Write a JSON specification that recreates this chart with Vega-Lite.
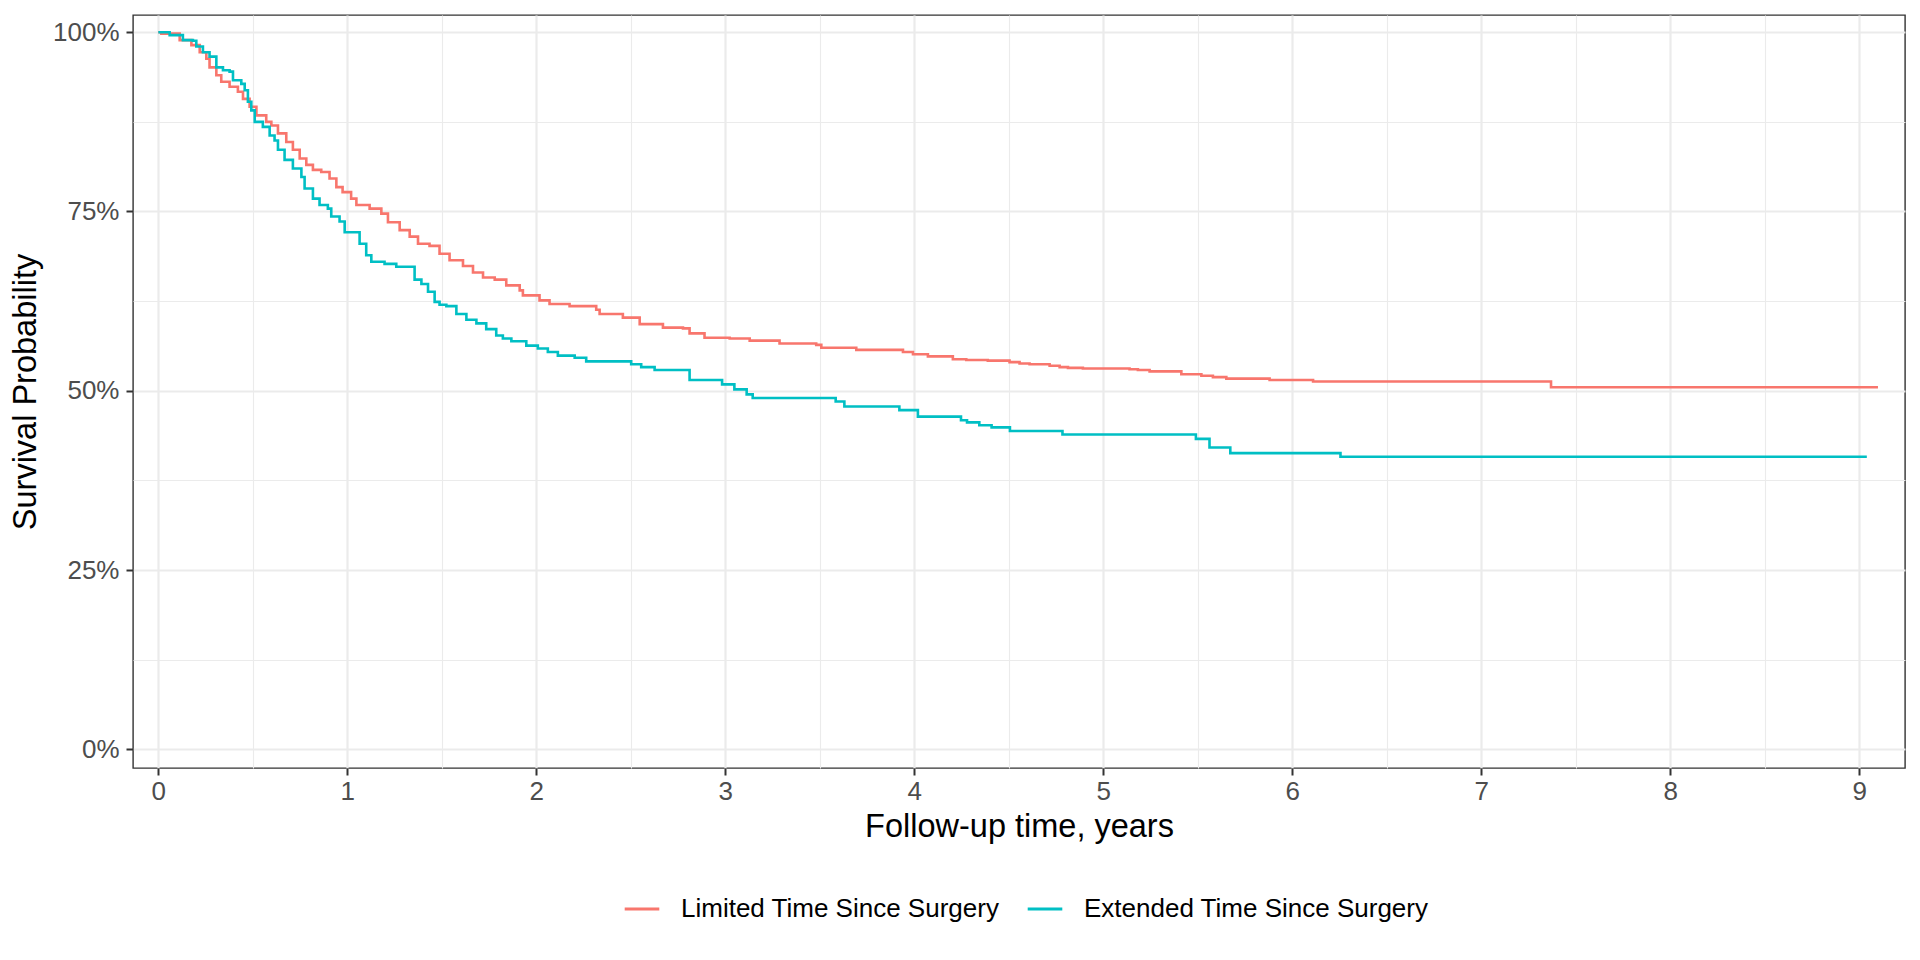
{
  "$schema": "https://vega.github.io/schema/vega-lite/v6.json",
  "width": 1772,
  "height": 753,
  "autosize": {"type": "none"},
  "padding": {"left": 133, "top": 15, "right": 15, "bottom": 192},
  "background": "white",
  "config": {
    "font": "Liberation Sans",
    "view": {"stroke": "#333333", "strokeWidth": 1.4}
  },
  "data": {
    "values": [
      {"g": "Limited Time Since Surgery", "t": 0, "s": 1.0},
      {"g": "Limited Time Since Surgery", "t": 0.016, "s": 0.998},
      {"g": "Limited Time Since Surgery", "t": 0.113, "s": 0.989},
      {"g": "Limited Time Since Surgery", "t": 0.175, "s": 0.982},
      {"g": "Limited Time Since Surgery", "t": 0.219, "s": 0.972},
      {"g": "Limited Time Since Surgery", "t": 0.254, "s": 0.963},
      {"g": "Limited Time Since Surgery", "t": 0.271, "s": 0.951},
      {"g": "Limited Time Since Surgery", "t": 0.307, "s": 0.94},
      {"g": "Limited Time Since Surgery", "t": 0.333, "s": 0.931},
      {"g": "Limited Time Since Surgery", "t": 0.377, "s": 0.924},
      {"g": "Limited Time Since Surgery", "t": 0.421, "s": 0.917},
      {"g": "Limited Time Since Surgery", "t": 0.448, "s": 0.907},
      {"g": "Limited Time Since Surgery", "t": 0.483, "s": 0.896},
      {"g": "Limited Time Since Surgery", "t": 0.519, "s": 0.884},
      {"g": "Limited Time Since Surgery", "t": 0.571, "s": 0.875},
      {"g": "Limited Time Since Surgery", "t": 0.598, "s": 0.87},
      {"g": "Limited Time Since Surgery", "t": 0.633, "s": 0.859},
      {"g": "Limited Time Since Surgery", "t": 0.677, "s": 0.847},
      {"g": "Limited Time Since Surgery", "t": 0.712, "s": 0.836},
      {"g": "Limited Time Since Surgery", "t": 0.748, "s": 0.824},
      {"g": "Limited Time Since Surgery", "t": 0.783, "s": 0.815},
      {"g": "Limited Time Since Surgery", "t": 0.818, "s": 0.808},
      {"g": "Limited Time Since Surgery", "t": 0.862, "s": 0.805},
      {"g": "Limited Time Since Surgery", "t": 0.906, "s": 0.796},
      {"g": "Limited Time Since Surgery", "t": 0.942, "s": 0.784},
      {"g": "Limited Time Since Surgery", "t": 0.975, "s": 0.777},
      {"g": "Limited Time Since Surgery", "t": 1.02, "s": 0.768},
      {"g": "Limited Time Since Surgery", "t": 1.048, "s": 0.759},
      {"g": "Limited Time Since Surgery", "t": 1.118, "s": 0.754},
      {"g": "Limited Time Since Surgery", "t": 1.18, "s": 0.747},
      {"g": "Limited Time Since Surgery", "t": 1.215, "s": 0.735},
      {"g": "Limited Time Since Surgery", "t": 1.277, "s": 0.724},
      {"g": "Limited Time Since Surgery", "t": 1.33, "s": 0.715},
      {"g": "Limited Time Since Surgery", "t": 1.374, "s": 0.705},
      {"g": "Limited Time Since Surgery", "t": 1.435, "s": 0.702},
      {"g": "Limited Time Since Surgery", "t": 1.488, "s": 0.691},
      {"g": "Limited Time Since Surgery", "t": 1.541, "s": 0.682},
      {"g": "Limited Time Since Surgery", "t": 1.612, "s": 0.674},
      {"g": "Limited Time Since Surgery", "t": 1.665, "s": 0.665},
      {"g": "Limited Time Since Surgery", "t": 1.718, "s": 0.658},
      {"g": "Limited Time Since Surgery", "t": 1.78, "s": 0.655},
      {"g": "Limited Time Since Surgery", "t": 1.841, "s": 0.647},
      {"g": "Limited Time Since Surgery", "t": 1.912, "s": 0.64},
      {"g": "Limited Time Since Surgery", "t": 1.929, "s": 0.633},
      {"g": "Limited Time Since Surgery", "t": 2.017, "s": 0.626},
      {"g": "Limited Time Since Surgery", "t": 2.07, "s": 0.621},
      {"g": "Limited Time Since Surgery", "t": 2.176, "s": 0.618},
      {"g": "Limited Time Since Surgery", "t": 2.317, "s": 0.613},
      {"g": "Limited Time Since Surgery", "t": 2.335, "s": 0.607},
      {"g": "Limited Time Since Surgery", "t": 2.458, "s": 0.602},
      {"g": "Limited Time Since Surgery", "t": 2.547, "s": 0.593},
      {"g": "Limited Time Since Surgery", "t": 2.67, "s": 0.588},
      {"g": "Limited Time Since Surgery", "t": 2.776, "s": 0.587},
      {"g": "Limited Time Since Surgery", "t": 2.811, "s": 0.58},
      {"g": "Limited Time Since Surgery", "t": 2.89, "s": 0.574},
      {"g": "Limited Time Since Surgery", "t": 3.023, "s": 0.573},
      {"g": "Limited Time Since Surgery", "t": 3.129, "s": 0.57},
      {"g": "Limited Time Since Surgery", "t": 3.287, "s": 0.566},
      {"g": "Limited Time Since Surgery", "t": 3.481, "s": 0.564},
      {"g": "Limited Time Since Surgery", "t": 3.508, "s": 0.56},
      {"g": "Limited Time Since Surgery", "t": 3.693, "s": 0.557},
      {"g": "Limited Time Since Surgery", "t": 3.94, "s": 0.554},
      {"g": "Limited Time Since Surgery", "t": 3.993, "s": 0.551},
      {"g": "Limited Time Since Surgery", "t": 4.072, "s": 0.548},
      {"g": "Limited Time Since Surgery", "t": 4.204, "s": 0.544},
      {"g": "Limited Time Since Surgery", "t": 4.275, "s": 0.543},
      {"g": "Limited Time Since Surgery", "t": 4.389, "s": 0.542},
      {"g": "Limited Time Since Surgery", "t": 4.504, "s": 0.54},
      {"g": "Limited Time Since Surgery", "t": 4.557, "s": 0.538},
      {"g": "Limited Time Since Surgery", "t": 4.61, "s": 0.537},
      {"g": "Limited Time Since Surgery", "t": 4.716, "s": 0.535},
      {"g": "Limited Time Since Surgery", "t": 4.769, "s": 0.533},
      {"g": "Limited Time Since Surgery", "t": 4.813, "s": 0.532},
      {"g": "Limited Time Since Surgery", "t": 4.892, "s": 0.531},
      {"g": "Limited Time Since Surgery", "t": 5.139, "s": 0.53},
      {"g": "Limited Time Since Surgery", "t": 5.183, "s": 0.529},
      {"g": "Limited Time Since Surgery", "t": 5.245, "s": 0.527},
      {"g": "Limited Time Since Surgery", "t": 5.413, "s": 0.523},
      {"g": "Limited Time Since Surgery", "t": 5.519, "s": 0.521},
      {"g": "Limited Time Since Surgery", "t": 5.58, "s": 0.519},
      {"g": "Limited Time Since Surgery", "t": 5.651, "s": 0.517},
      {"g": "Limited Time Since Surgery", "t": 5.88, "s": 0.515},
      {"g": "Limited Time Since Surgery", "t": 6.11, "s": 0.513},
      {"g": "Limited Time Since Surgery", "t": 7.369, "s": 0.505},
      {"g": "Limited Time Since Surgery", "t": 9.099, "s": 0.505},
      {"g": "Extended Time Since Surgery", "t": 0, "s": 1.0},
      {"g": "Extended Time Since Surgery", "t": 0.06, "s": 0.996},
      {"g": "Extended Time Since Surgery", "t": 0.13, "s": 0.989},
      {"g": "Extended Time Since Surgery", "t": 0.183, "s": 0.988},
      {"g": "Extended Time Since Surgery", "t": 0.201, "s": 0.98},
      {"g": "Extended Time Since Surgery", "t": 0.236, "s": 0.972},
      {"g": "Extended Time Since Surgery", "t": 0.271, "s": 0.966},
      {"g": "Extended Time Since Surgery", "t": 0.307, "s": 0.951},
      {"g": "Extended Time Since Surgery", "t": 0.342, "s": 0.947},
      {"g": "Extended Time Since Surgery", "t": 0.377, "s": 0.945},
      {"g": "Extended Time Since Surgery", "t": 0.395, "s": 0.933},
      {"g": "Extended Time Since Surgery", "t": 0.439, "s": 0.928},
      {"g": "Extended Time Since Surgery", "t": 0.457, "s": 0.919},
      {"g": "Extended Time Since Surgery", "t": 0.474, "s": 0.903},
      {"g": "Extended Time Since Surgery", "t": 0.492, "s": 0.891},
      {"g": "Extended Time Since Surgery", "t": 0.51, "s": 0.875},
      {"g": "Extended Time Since Surgery", "t": 0.553, "s": 0.868},
      {"g": "Extended Time Since Surgery", "t": 0.589, "s": 0.856},
      {"g": "Extended Time Since Surgery", "t": 0.615, "s": 0.849},
      {"g": "Extended Time Since Surgery", "t": 0.633, "s": 0.836},
      {"g": "Extended Time Since Surgery", "t": 0.668, "s": 0.822},
      {"g": "Extended Time Since Surgery", "t": 0.712, "s": 0.81},
      {"g": "Extended Time Since Surgery", "t": 0.757, "s": 0.798},
      {"g": "Extended Time Since Surgery", "t": 0.774, "s": 0.782},
      {"g": "Extended Time Since Surgery", "t": 0.818, "s": 0.768},
      {"g": "Extended Time Since Surgery", "t": 0.853, "s": 0.759},
      {"g": "Extended Time Since Surgery", "t": 0.897, "s": 0.754},
      {"g": "Extended Time Since Surgery", "t": 0.915, "s": 0.743},
      {"g": "Extended Time Since Surgery", "t": 0.959, "s": 0.736},
      {"g": "Extended Time Since Surgery", "t": 0.986, "s": 0.721},
      {"g": "Extended Time Since Surgery", "t": 1.065, "s": 0.705},
      {"g": "Extended Time Since Surgery", "t": 1.1, "s": 0.689},
      {"g": "Extended Time Since Surgery", "t": 1.127, "s": 0.68},
      {"g": "Extended Time Since Surgery", "t": 1.197, "s": 0.677},
      {"g": "Extended Time Since Surgery", "t": 1.259, "s": 0.673},
      {"g": "Extended Time Since Surgery", "t": 1.356, "s": 0.655},
      {"g": "Extended Time Since Surgery", "t": 1.392, "s": 0.649},
      {"g": "Extended Time Since Surgery", "t": 1.427, "s": 0.638},
      {"g": "Extended Time Since Surgery", "t": 1.462, "s": 0.624},
      {"g": "Extended Time Since Surgery", "t": 1.488, "s": 0.62},
      {"g": "Extended Time Since Surgery", "t": 1.524, "s": 0.618},
      {"g": "Extended Time Since Surgery", "t": 1.577, "s": 0.607},
      {"g": "Extended Time Since Surgery", "t": 1.63, "s": 0.599},
      {"g": "Extended Time Since Surgery", "t": 1.683, "s": 0.594},
      {"g": "Extended Time Since Surgery", "t": 1.735, "s": 0.586},
      {"g": "Extended Time Since Surgery", "t": 1.788, "s": 0.577},
      {"g": "Extended Time Since Surgery", "t": 1.823, "s": 0.573},
      {"g": "Extended Time Since Surgery", "t": 1.868, "s": 0.569},
      {"g": "Extended Time Since Surgery", "t": 1.947, "s": 0.563},
      {"g": "Extended Time Since Surgery", "t": 2.008, "s": 0.559},
      {"g": "Extended Time Since Surgery", "t": 2.061, "s": 0.554},
      {"g": "Extended Time Since Surgery", "t": 2.114, "s": 0.549},
      {"g": "Extended Time Since Surgery", "t": 2.203, "s": 0.546},
      {"g": "Extended Time Since Surgery", "t": 2.264, "s": 0.541},
      {"g": "Extended Time Since Surgery", "t": 2.502, "s": 0.537},
      {"g": "Extended Time Since Surgery", "t": 2.555, "s": 0.533},
      {"g": "Extended Time Since Surgery", "t": 2.626, "s": 0.529},
      {"g": "Extended Time Since Surgery", "t": 2.811, "s": 0.515},
      {"g": "Extended Time Since Surgery", "t": 2.983, "s": 0.509},
      {"g": "Extended Time Since Surgery", "t": 3.048, "s": 0.502},
      {"g": "Extended Time Since Surgery", "t": 3.113, "s": 0.495},
      {"g": "Extended Time Since Surgery", "t": 3.145, "s": 0.49},
      {"g": "Extended Time Since Surgery", "t": 3.584, "s": 0.485},
      {"g": "Extended Time Since Surgery", "t": 3.63, "s": 0.478},
      {"g": "Extended Time Since Surgery", "t": 3.921, "s": 0.473},
      {"g": "Extended Time Since Surgery", "t": 4.019, "s": 0.464},
      {"g": "Extended Time Since Surgery", "t": 4.247, "s": 0.459},
      {"g": "Extended Time Since Surgery", "t": 4.279, "s": 0.456},
      {"g": "Extended Time Since Surgery", "t": 4.344, "s": 0.452},
      {"g": "Extended Time Since Surgery", "t": 4.409, "s": 0.449},
      {"g": "Extended Time Since Surgery", "t": 4.506, "s": 0.444},
      {"g": "Extended Time Since Surgery", "t": 4.784, "s": 0.439},
      {"g": "Extended Time Since Surgery", "t": 5.49, "s": 0.433},
      {"g": "Extended Time Since Surgery", "t": 5.562, "s": 0.421},
      {"g": "Extended Time Since Surgery", "t": 5.672, "s": 0.413},
      {"g": "Extended Time Since Surgery", "t": 6.255, "s": 0.408},
      {"g": "Extended Time Since Surgery", "t": 9.04, "s": 0.408}
    ]
  },
  "mark": {"type": "line", "interpolate": "step-after", "strokeWidth": 2.6},
  "encoding": {
    "x": {
      "field": "t",
      "type": "quantitative",
      "scale": {"domain": [-0.134, 9.242], "nice": false, "zero": false},
      "axis": {
        "title": "Follow-up time, years",
        "titleFontSize": 32.5,
        "titleFontWeight": "normal",
        "titleColor": "#000000",
        "titlePadding": 6,
        "values": [0, 0.5, 1, 1.5, 2, 2.5, 3, 3.5, 4, 4.5, 5, 5.5, 6, 6.5, 7, 7.5, 8, 8.5, 9],
        "labelExpr": "datum.value % 1 === 0 ? format(datum.value, 'd') : ''",
        "labelFontSize": 26,
        "labelColor": "#4D4D4D",
        "labelPadding": 3,
        "labelFlush": false,
        "domain": false,
        "tickColor": "#333333",
        "tickWidth": 2,
        "tickSize": 7,
        "tickOpacity": {"condition": {"test": "datum.value % 1 === 0", "value": 1}, "value": 0},
        "gridColor": "#EBEBEB",
        "gridWidth": {"condition": {"test": "datum.value % 1 === 0", "value": 2.2}, "value": 1.1}
      }
    },
    "y": {
      "field": "s",
      "type": "quantitative",
      "scale": {"domain": [-0.026, 1.024], "nice": false, "zero": false},
      "axis": {
        "title": "Survival Probability",
        "titleFontSize": 32.5,
        "titleFontWeight": "normal",
        "titleColor": "#000000",
        "titlePadding": 10,
        "values": [0, 0.125, 0.25, 0.375, 0.5, 0.625, 0.75, 0.875, 1],
        "labelExpr": "abs(datum.value * 4 - round(datum.value * 4)) < 0.000001 ? format(datum.value, '.0%') : ''",
        "labelFontSize": 26,
        "labelColor": "#4D4D4D",
        "labelPadding": 7,
        "labelFlush": false,
        "domain": false,
        "tickColor": "#333333",
        "tickWidth": 2,
        "tickSize": 7,
        "tickOpacity": {"condition": {"test": "abs(datum.value * 4 - round(datum.value * 4)) < 0.000001", "value": 1}, "value": 0},
        "gridColor": "#EBEBEB",
        "gridWidth": {"condition": {"test": "abs(datum.value * 4 - round(datum.value * 4)) < 0.000001", "value": 2.2}, "value": 1.1}
      }
    },
    "color": {
      "field": "g",
      "type": "nominal",
      "scale": {
        "domain": ["Limited Time Since Surgery", "Extended Time Since Surgery"],
        "range": ["#F8766D", "#00BFC4"]
      },
      "legend": {
        "title": null,
        "orient": "none",
        "direction": "horizontal",
        "legendX": 490,
        "legendY": 875,
        "labelFontSize": 26,
        "labelColor": "#000000",
        "labelLimit": 0,
        "symbolType": "stroke",
        "symbolSize": 1197,
        "symbolStrokeWidth": 3,
        "labelOffset": 20,
        "columnPadding": 21
      }
    }
  }
}
